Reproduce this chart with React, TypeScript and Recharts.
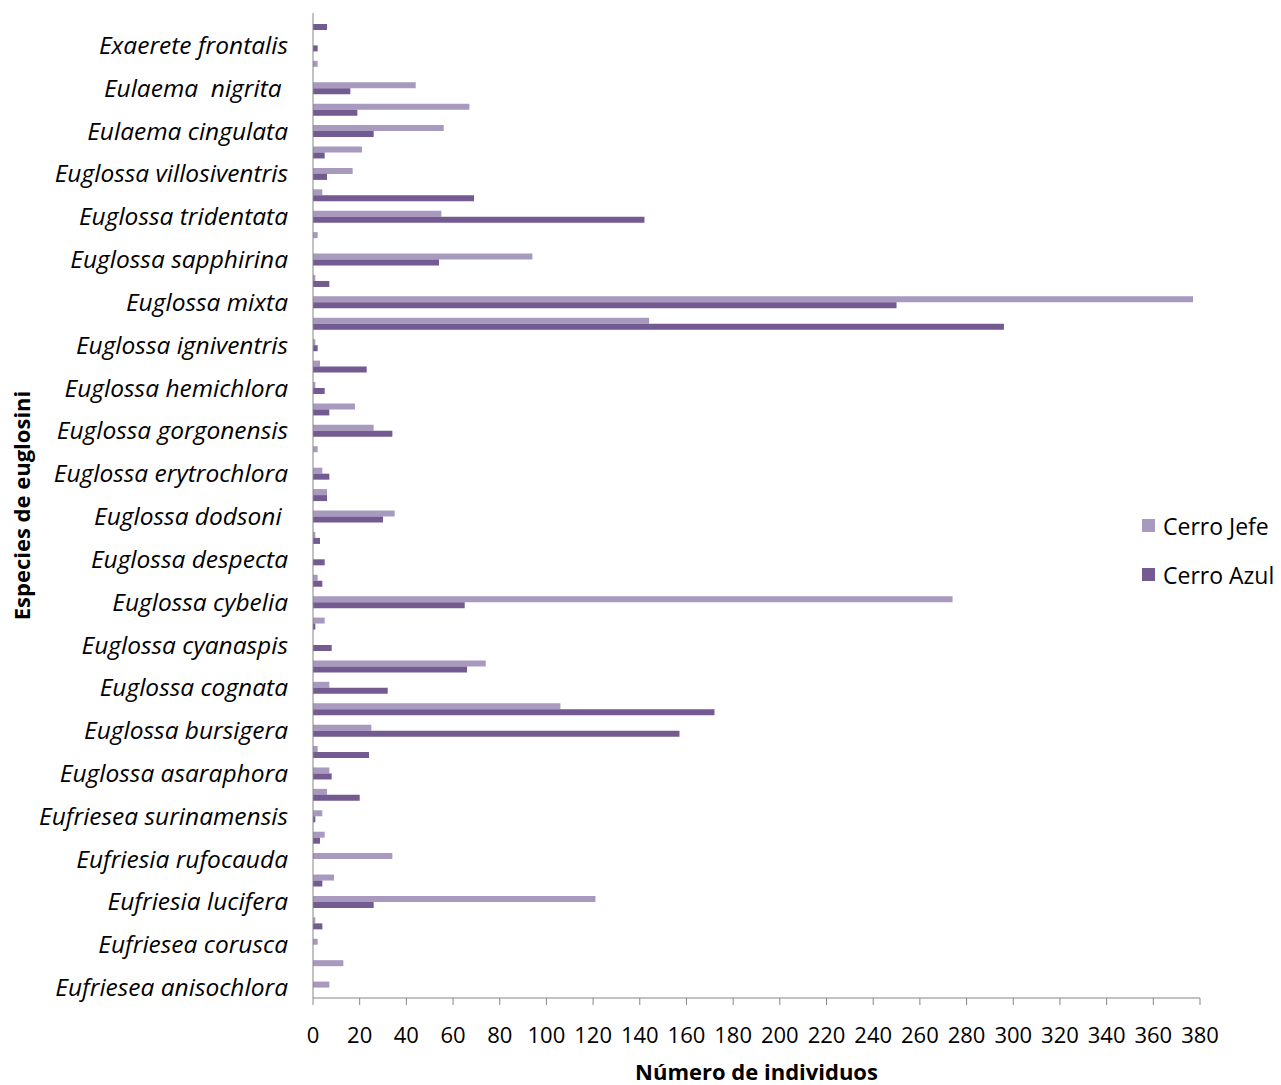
import { BarChart, Bar, XAxis, YAxis, Legend } from 'recharts'

// every other category carries a label, like the original Excel chart
const tickLabels = [
  'Exaerete frontalis',
  'Eulaema  nigrita ',
  'Eulaema cingulata',
  'Euglossa villosiventris',
  'Euglossa tridentata',
  'Euglossa sapphirina',
  'Euglossa mixta',
  'Euglossa igniventris',
  'Euglossa hemichlora',
  'Euglossa gorgonensis',
  'Euglossa erytrochlora',
  'Euglossa dodsoni ',
  'Euglossa despecta',
  'Euglossa cybelia',
  'Euglossa cyanaspis',
  'Euglossa cognata',
  'Euglossa bursigera',
  'Euglossa asaraphora',
  'Eufriesea surinamensis',
  'Eufriesia rufocauda',
  'Eufriesia lucifera',
  'Eufriesea corusca',
  'Eufriesea anisochlora'
]

// top to bottom
const cerroJefe = [
  0, 0, 2, 44, 67, 56, 21, 17, 4, 55, 2, 94, 1, 377, 144, 1, 3, 1, 18, 26, 2, 4, 6,
  35, 1, 0, 2, 274, 5, 0, 74, 7, 106, 25, 2, 7, 6, 4, 5, 34, 9, 121, 1, 2, 13, 7
]
const cerroAzul = [
  6, 2, 0, 16, 19, 26, 5, 6, 69, 142, 0, 54, 7, 250, 296, 2, 23, 5, 7, 34, 0, 7, 6,
  30, 3, 5, 4, 65, 1, 8, 66, 32, 172, 157, 24, 8, 20, 1, 3, 0, 4, 26, 4, 0, 0, 0
]
const xTicks = [0, 20, 40, 60, 80, 100, 120, 140, 160, 180, 200, 220, 240, 260, 280, 300, 320, 340, 360, 380]
const legendOrder = ['Cerro Jefe', 'Cerro Azul']

const data = cerroJefe.map((v, i) => ({
  id: String(i),
  jefe: v,
  azul: cerroAzul[i]
}))

const labelFor = (i: number) => (i % 2 === 1 ? tickLabels[(i - 1) / 2] : '')

const FONT = '"Open Sans", sans-serif'
const JEFE = '#A89ABE'
const AZUL = '#735A91'

const SpeciesTick = ({ x, y, payload }: any) => {
  const text = labelFor(Number(payload.value))
  if (!text) return null
  return (
    <text
      x={x}
      y={y}
      dy="0.36em"
      textAnchor="end"
      fontFamily={FONT}
      fontSize={24.5}
      fontStyle="italic"
      fill="#000"
      style={{ whiteSpace: 'pre' }}
    >
      {text}
    </text>
  )
}

const LegendBox = ({ payload }: any) => {
  const items = [...payload].sort(
    (a: any, b: any) => legendOrder.indexOf(a.value) - legendOrder.indexOf(b.value)
  )
  return (
    <div style={{ fontFamily: FONT, fontSize: 23, color: '#000' }}>
      {items.map((p: any) => (
        <div key={p.value} style={{ display: 'flex', alignItems: 'center', height: 49 }}>
          <span style={{ width: 13, height: 13, background: p.color, marginRight: 8 }} />
          {p.value}
        </div>
      ))}
    </div>
  )
}

const App = () => {
  return (
    <div style={{ position: 'absolute', left: 0, top: 0, background: '#fff' }}>
      <BarChart
        width={1281}
        height={1085}
        data={data}
        layout="vertical"
        margin={{ top: 13, right: 81, bottom: 0, left: 0 }}
        barSize={6}
        barGap={0}
      >
        <XAxis
          type="number"
          domain={[0, 380]}
          ticks={xTicks}
          interval={0}
          height={87}
          stroke="#868686"
          tickSize={7}
          tickMargin={22}
          tick={{ fontFamily: FONT, fontSize: 22, fill: '#000' }}
          label={{
            value: 'Número de individuos',
            position: 'insideBottom',
            offset: 5,
            fontFamily: FONT,
            fontSize: 22,
            fontWeight: 'bold',
            fill: '#000'
          }}
        />
        <YAxis
          type="category"
          dataKey="id"
          width={313}
          interval={0}
          stroke="#868686"
          tickLine={false}
          tickSize={0}
          tickMargin={25}
          tick={<SpeciesTick />}
          label={{
            value: 'Especies de euglosini',
            angle: -90,
            position: 'insideLeft',
            offset: 22,
            fontFamily: FONT,
            fontSize: 22,
            fontWeight: 'bold',
            fill: '#000',
            style: { textAnchor: 'middle' }
          }}
        />
        <Legend
          layout="vertical"
          align="center"
          verticalAlign="middle"
          wrapperStyle={{ left: 1142, top: 501, width: 139 }}
          content={<LegendBox />}
        />
        <Bar dataKey="jefe" name="Cerro Jefe" fill={JEFE} isAnimationActive={false} />
        <Bar dataKey="azul" name="Cerro Azul" fill={AZUL} isAnimationActive={false} />
      </BarChart>
    </div>
  )
}

export default App
